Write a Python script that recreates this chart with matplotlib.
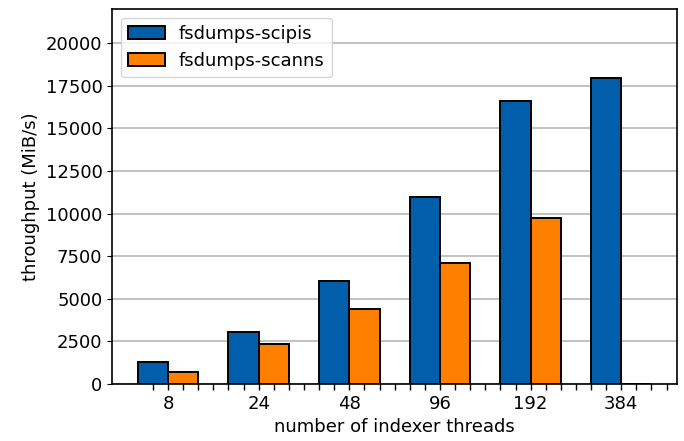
import numpy as np
import matplotlib
matplotlib.use("Agg")
import matplotlib.pyplot as plt

threads = ["8", "24", "48", "96", "192", "384"]
scipis = [1270, 3050, 6060, 10950, 16600, 17970]
scanns = [690, 2370, 4400, 7110, 9760, 0]

plt.rcParams["font.family"] = "DejaVu Sans"
plt.rcParams["font.size"] = 13

fig = plt.figure(figsize=(6.84, 4.41), dpi=100)
ax = fig.add_axes([0.164, 0.129, 0.826, 0.851])

x = np.arange(len(threads))
w = 1 / 3
ax.bar(x - w / 2, scipis, w, color="#005EAA", edgecolor="black",
       linewidth=1.4, label="fsdumps-scipis", zorder=3)
ax.bar(x + w / 2, scanns, w, color="#FF7F00", edgecolor="black",
       linewidth=1.4, label="fsdumps-scanns", zorder=3)

ax.set_xticks(x)
ax.set_xticklabels(threads)
ax.set_xticks(np.arange(-1, 6 * len(threads) - 2) / 6, minor=True)
ax.tick_params(axis="x", which="both", length=4, width=1)
ax.set_ylim(0, 22000)
ax.set_yticks(np.arange(0, 20001, 2500))
ax.yaxis.grid(True, color="#b8b8b8", linewidth=1.2, zorder=0)
ax.set_axisbelow(True)
for s in ax.spines.values():
    s.set_linewidth(1.2)

ax.set_xlabel("number of indexer threads")
ax.set_ylabel("throughput (MiB/s)")
ax.legend(loc="upper left", fontsize=13)

fig.savefig("out.png", dpi=100)
